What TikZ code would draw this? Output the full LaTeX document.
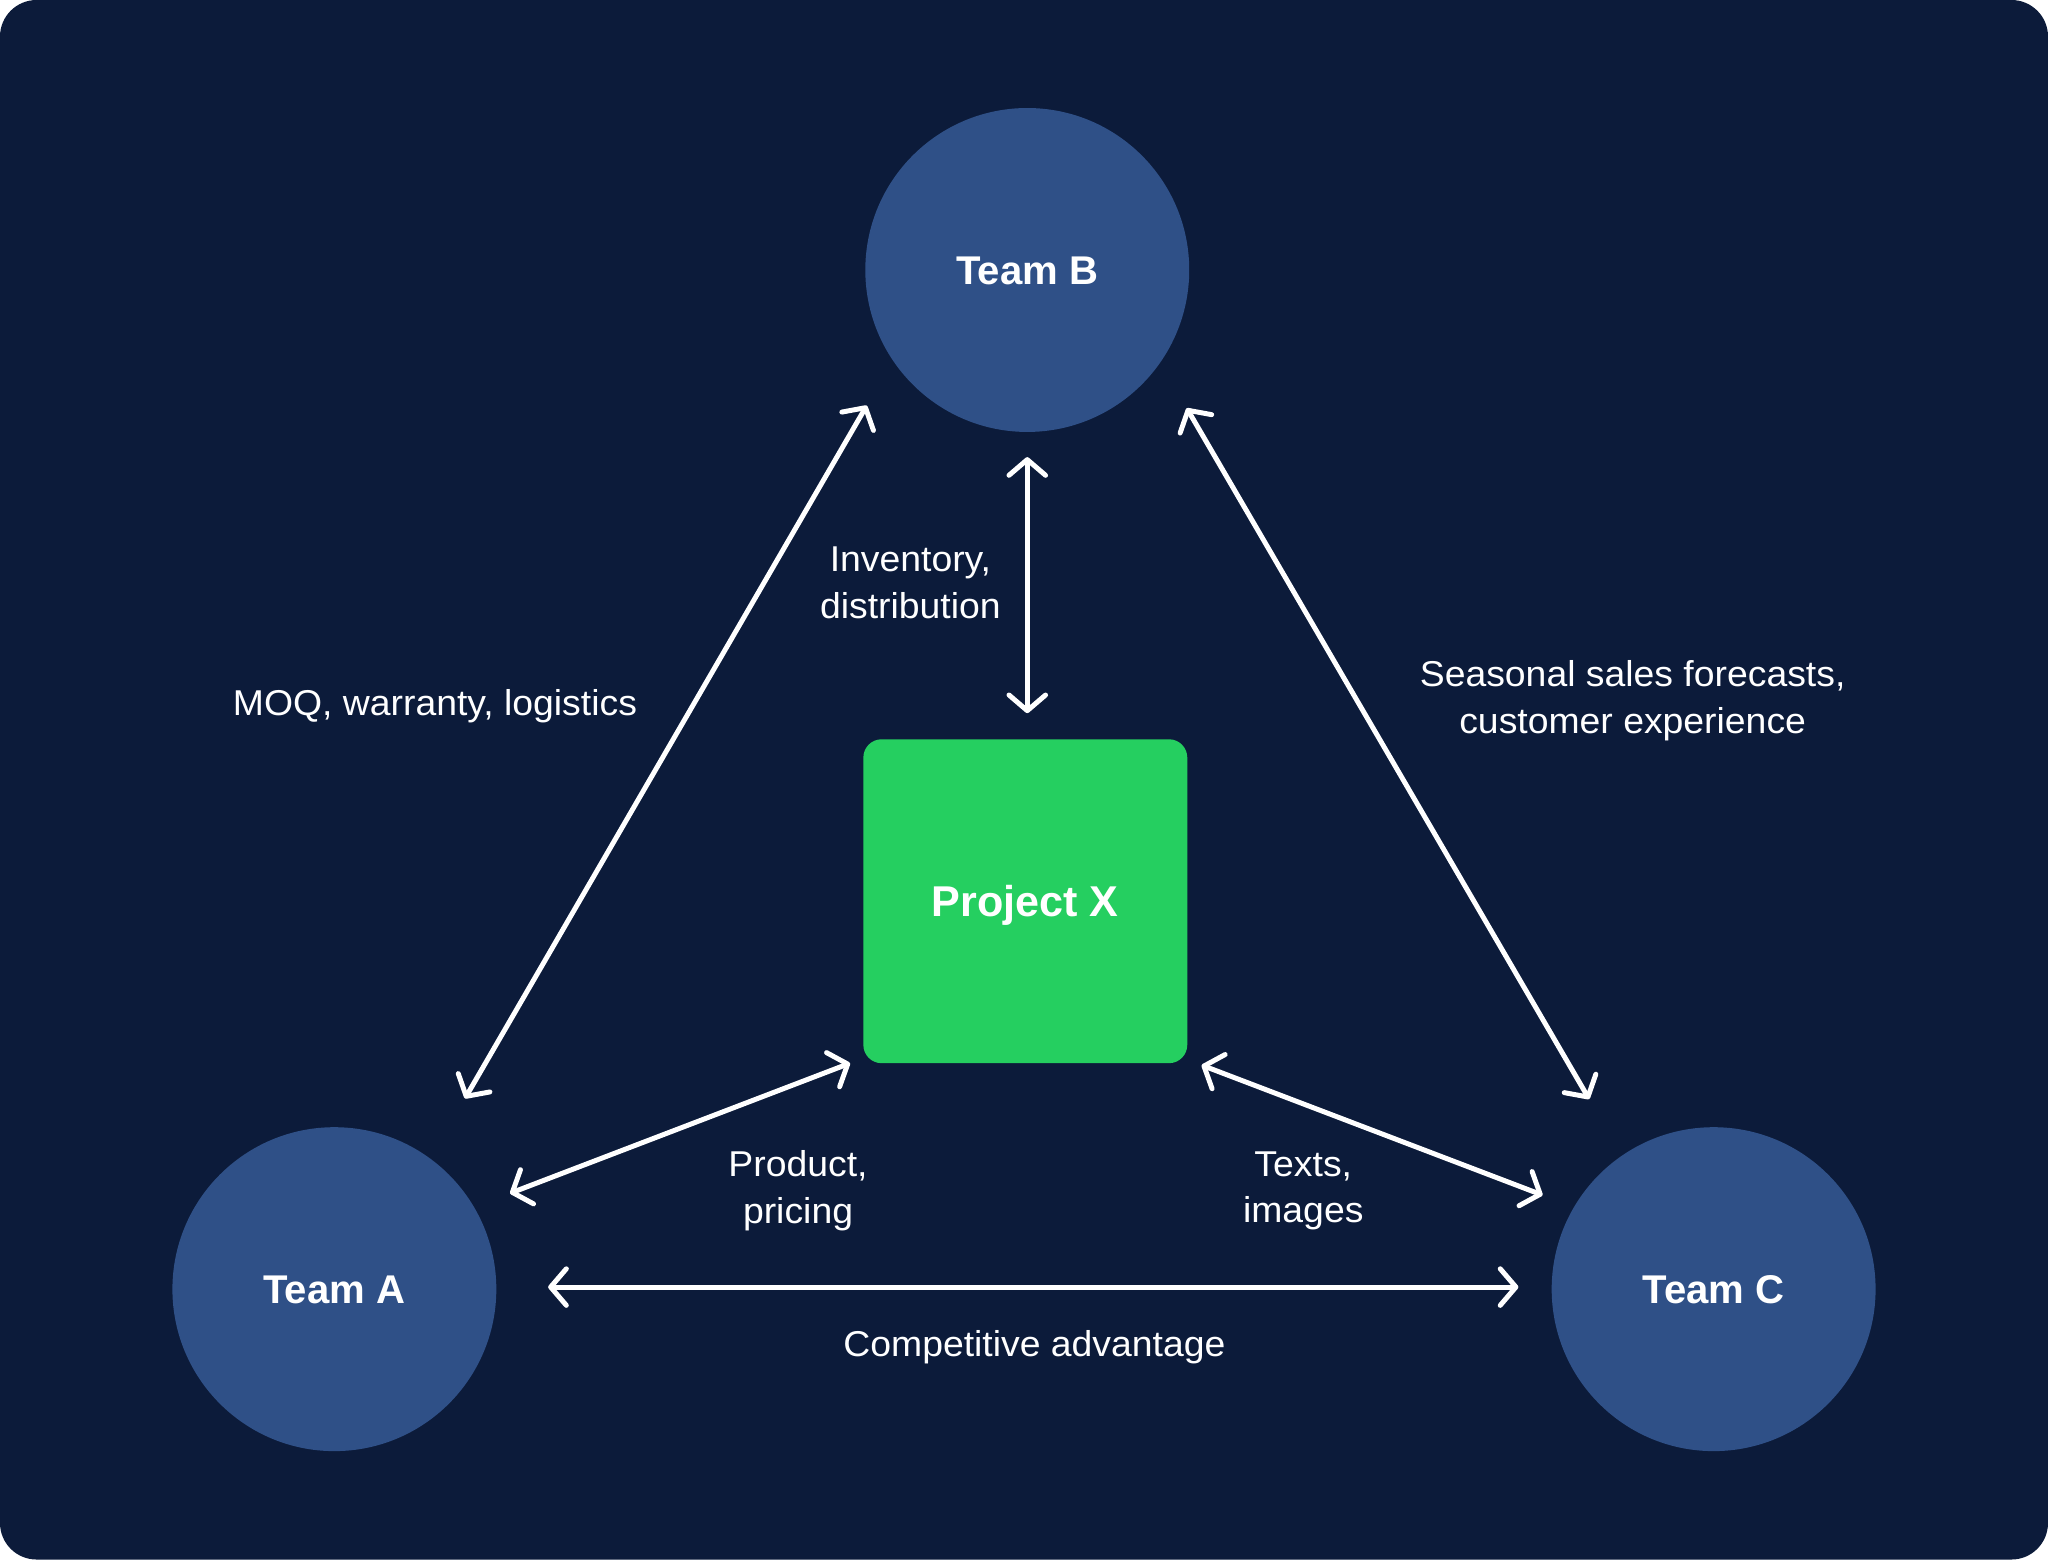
\documentclass[tikz,border=0pt]{standalone}
\usepackage{fontspec}
\setmainfont{Liberation Sans}
\newfontfamily\lblfont{Liberation Sans}[FakeStretch=1.04]
\usetikzlibrary{arrows.meta}
\definecolor{navy}{HTML}{0C1B3A}
\definecolor{teamblue}{HTML}{2F5087}
\definecolor{projgreen}{HTML}{25CF60}
\tikzset{
  team/.style={circle, fill=teamblue, minimum size=248pt, inner sep=0pt,
    text=white, font=\fontsize{30.7}{36}\selectfont\bfseries,
    text height=22pt, text depth=0pt},
  project/.style={rectangle, rounded corners=14pt, fill=projgreen,
    minimum width=248pt, minimum height=248pt, inner sep=0pt,
    text=white, font=\fontsize{33}{38}\selectfont\bfseries,
    text height=23.6pt, text depth=0pt},
  lbl/.style={text=white, font=\lblfont\fontsize{27.5}{35.5}\selectfont,
    align=center, inner sep=0pt, anchor=base},
  conn/.style={draw=white, line width=3.8pt, line cap=round,
    {Straight Barb[length=12pt,width=28pt,round]}-{Straight Barb[length=12pt,width=28pt,round]}},
}
\begin{document}
\begin{tikzpicture}[x=1pt,y=-1pt]
  \useasboundingbox (0,0) rectangle (1568,1194);
  \fill[white] (0,0) rectangle (1568,1194);
  \fill[navy, rounded corners=28pt] (0,0) rectangle (1568,1194);

  \node[team] (B) at (786.5,206.7) {Team B};
  \node[team] (A) at (256,987) {Team A};
  \node[team] (C) at (1312,987) {Team C};
  \node[project] (P) at (785,690) {Project X};

  % connector end points
  \coordinate (ab1) at (356,841);
  \coordinate (ab2) at (663.6,310.5);
  \coordinate (bp1) at (786.5,350);
  \coordinate (bp2) at (786.5,546);
  \coordinate (bc1) at (908.6,312.5);
  \coordinate (bc2) at (1216.7,841.5);
  \coordinate (ap1) at (390.5,913.6);
  \coordinate (ap2) at (650.8,814);
  \coordinate (pc1) at (920,815.5);
  \coordinate (pc2) at (1181,915);
  \coordinate (ac1) at (419.7,985.4);
  \coordinate (ac2) at (1162.5,985.4);

  \draw[conn] (ab1) -- (ab2);
  \draw[conn] (bp1) -- (bp2);
  \draw[conn] (bc1) -- (bc2);
  \draw[conn] (ap1) -- (ap2);
  \draw[conn] (pc1) -- (pc2);
  \draw[conn] (ac1) -- (ac2);

  % multi-line labels: base anchor is the last line's baseline
  \node[lbl] (lab) at (333,547.5) {MOQ, warranty, logistics};
  \node[lbl] (lbp) at (697,473.2) {Inventory,\\distribution};
  \node[lbl] (lbc) at (1250,561.3) {Seasonal sales forecasts,\\customer experience};
  \node[lbl] (lap) at (611,936.5) {Product,\\pricing};
  \node[lbl] (lpc) at (997.8,936) {Texts,\\images};
  \node[lbl] (lac) at (792,1038.5) {Competitive advantage};
\end{tikzpicture}
\end{document}
